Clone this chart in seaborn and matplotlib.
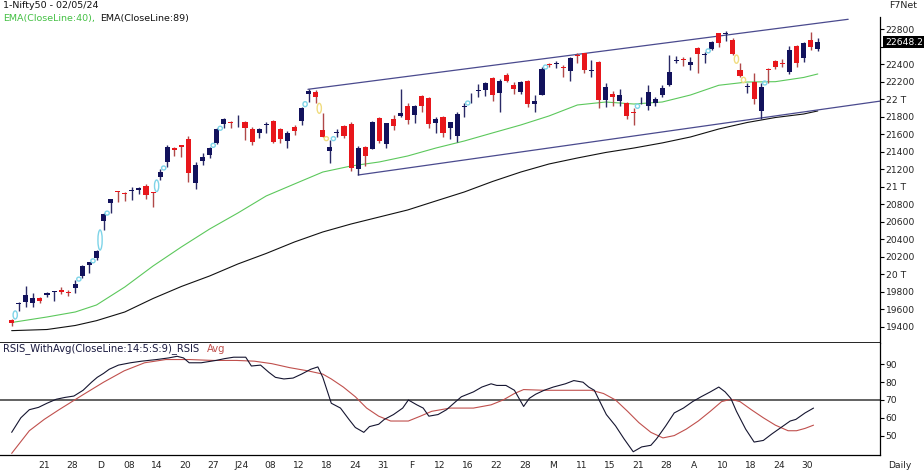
import numpy as np
import matplotlib
matplotlib.use("Agg")
import matplotlib.pyplot as plt
import seaborn as sns
from matplotlib.patches import Ellipse

# ---------------- data (Nifty50 daily, 13 Nov 2023 - 02 May 2024) ----------------
opens = [19480, 19662, 19689, 19677, 19734, 19770, 19805, 19820, 19800, 19841,
         19982, 20107, 20184, 20613, 20818, 20950, 20930, 20955, 20963, 21009,
         20940, 21108, 21286, 21440, 21476, 21542, 21040, 21297, 21362, 21496,
         21716, 21740, 21735, 21742, 21656, 21610, 21700, 21750, 21656, 21526,
         21679, 21754, 22055, 22081, 21648, 21411, 21615, 21697, 21713, 21199,
         21450, 21428, 21781, 21488, 21777, 21807, 21921, 21819, 22036, 22009,
         21724, 21793, 21667, 21579, 21915, 22020, 22100, 22104, 22238, 22073,
         22275, 22161, 22085, 22210, 21944, 22047, 22400, 22400, 22370, 22324,
         22505, 22523, 22325, 22427, 21990, 22058, 21982, 21952, 21850, 21985,
         21921, 21952, 22047, 22161, 22440, 22460, 22389, 22580, 22505, 22568,
         22751, 22745, 22675, 22332, 22140, 22199, 21868, 22345, 22438, 22410,
         22313, 22606, 22466, 22675, 22568]
highs = [19491, 19685, 19868, 19791, 19746, 19803, 19816, 19860, 19822, 19936,
         20107, 20145, 20278, 20695, 20864, 20955, 20935, 21001, 21001, 21032,
         20945, 21199, 21476, 21457, 21482, 21579, 21286, 21382, 21457, 21665,
         21781, 21750, 21819, 21750, 21685, 21667, 21742, 21762, 21667, 21640,
         21705, 21914, 22112, 22104, 21838, 21534, 21656, 21705, 21736, 21465,
         21465, 21754, 21800, 21724, 21819, 22112, 21952, 21933, 22048, 22021,
         21793, 21807, 21742, 21856, 21952, 22066, 22173, 22199, 22249, 22226,
         22295, 22199, 22210, 22218, 22050, 22363, 22409, 22438, 22389, 22477,
         22523, 22526, 22446, 22432, 22187, 22096, 22112, 21971, 21895, 22028,
         22161, 22024, 22161, 22503, 22492, 22477, 22484, 22591, 22541, 22667,
         22758, 22775, 22694, 22409, 22187, 22302, 22181, 22352, 22446, 22454,
         22606, 22617, 22655, 22769, 22694]
lows = [19411, 19583, 19632, 19632, 19670, 19746, 19700, 19776, 19754, 19785,
        19956, 20013, 20164, 20507, 20704, 20830, 20837, 20849, 20918, 20857,
        20773, 21077, 21229, 21351, 21336, 21058, 20971, 21248, 21325, 21488,
        21670, 21667, 21685, 21534, 21476, 21553, 21617, 21500, 21496, 21439,
        21591, 21700, 21971, 21952, 21564, 21275, 21564, 21560, 21183, 21134,
        21237, 21428, 21496, 21439, 21648, 21793, 21716, 21731, 21856, 21667,
        21617, 21571, 21542, 21514, 21793, 21959, 22021, 22036, 21982, 21856,
        22195, 22058, 22058, 21907, 21856, 22045, 22370, 22352, 22249, 22210,
        22415, 22295, 22249, 21895, 21907, 21921, 21921, 21770, 21705, 21944,
        21876, 21921, 22020, 22150, 22409, 22378, 22332, 22295, 22415, 22560,
        22598, 22667, 22503, 22249, 22073, 21944, 21770, 22187, 22345, 22370,
        22286, 22370, 22427, 22560, 22553]
closes = [19446, 19674, 19765, 19727, 19697, 19783, 19812, 19802, 19795, 19890,
          20096, 20140, 20267, 20687, 20855, 20940, 20920, 20966, 20989, 20906,
          20926, 21172, 21457, 21418, 21453, 21154, 21248, 21343, 21439, 21656,
          21770, 21731, 21742, 21667, 21514, 21656, 21713, 21514, 21542, 21617,
          21640, 21895, 22093, 22028, 21571, 21457, 21630, 21579, 21211, 21439,
          21351, 21742, 21526, 21724, 21693, 21845, 21762, 21921, 21925, 21716,
          21773, 21617, 21736, 21830, 21921, 22028, 22104, 22181, 22047, 22210,
          22210, 22112, 22199, 21944, 21982, 22340, 22390, 22410, 22360, 22466,
          22495, 22332, 22335, 21990, 22142, 22021, 22047, 21807, 21839, 21995,
          22085, 21998, 22124, 22313, 22452, 22450, 22427, 22515, 22515, 22655,
          22644, 22755, 22515, 22264, 22147, 21998, 22142, 22336, 22370, 22400,
          22560, 22409, 22637, 22598, 22648.2]

ema_idx = [0, 5, 9, 12, 16, 20, 24, 28, 32, 36, 40, 44, 48, 52, 56, 60, 64, 68,
           72, 76, 80, 84, 88, 92, 96, 100, 104, 108, 112, 114]
ema40 = [19451, 19514, 19571, 19651, 19856, 20096, 20313, 20518, 20701, 20895,
         21032, 21168, 21237, 21283, 21351, 21442, 21522, 21614, 21705, 21808,
         21933, 21967, 21944, 21967, 22047, 22158, 22195, 22199, 22247, 22287]
ema89 = [19358, 19371, 19417, 19472, 19571, 19725, 19862, 19982, 20119, 20239,
         20370, 20484, 20575, 20655, 20735, 20838, 20940, 21060, 21168, 21260,
         21328, 21391, 21442, 21500, 21568, 21659, 21733, 21790, 21830, 21865]

trend_hi_idx = [41.9, 118.3]
trend_hi = [22112, 22911]
trend_lo_idx = [49, 122.8]
trend_lo = [21134, 21977]

rsi_idx = [0, 1.3, 2.5, 3.8, 5, 6.3, 7.5, 8.8, 10.1, 11.3, 12.1, 13, 13.8, 15.1,
           16.8, 18.4, 20.5, 22.2, 23.4, 24.3, 25.1, 26.8, 27.6, 28.9, 30.1, 31.4,
           33.1, 33.9, 35.2, 36.4, 37.3, 38.5, 39.8, 41, 42.3, 43.3, 44, 45.2, 46.5,
           47.7, 48.6, 49.8, 50.6, 51.9, 52.7, 54, 55.3, 56.1, 57.3, 58.2, 59, 60.3,
           61.5, 62.8, 63.6, 65.3, 66.5, 67.8, 68.6, 69.9, 71.1, 72.4, 73.2, 74.1,
           75.3, 76.6, 78.3, 79.5, 80.8, 81.6, 82.4, 83.3, 84.1, 85.4, 86.6, 87.9,
           89.1, 90.4, 91.2, 92.5, 93.7, 95, 96.3, 97.5, 98.8, 100, 100.9, 101.7,
           102.5, 103.8, 105, 106.3, 107.5, 108.8, 110.1, 110.9, 112.2, 113.4]
rsi = [52, 60.1, 64.6, 65.9, 68.2, 70.4, 71.4, 72.2, 75.4, 79.9, 82.6, 84.8, 87.1,
       89.4, 90.7, 91.6, 92.5, 93.4, 94.3, 93.4, 90.7, 90.7, 91.2, 92, 93, 93.8,
       93.8, 88.9, 89.4, 85.3, 82.6, 81.7, 82.2, 84.4, 87.1, 88.4, 82.6, 68.2, 65.5,
       59.2, 54.7, 52, 55.2, 56.5, 59.2, 61.9, 65.5, 70, 67.3, 65.5, 61, 61.9, 64.6,
       69.1, 71.8, 74.5, 77.2, 79, 78.1, 78.1, 75.4, 66.4, 70.9, 73.2, 75.4, 77.2,
       79, 80.8, 79.9, 77.2, 75.4, 68.2, 61.9, 55.6, 48.4, 41.2, 43.9, 44.8, 48.4,
       55.6, 62.8, 65.5, 69.1, 71.8, 74.5, 77.2, 74.5, 70.9, 63.7, 53.8, 46.6, 47.5,
       51.1, 54.7, 58.3, 59.2, 62.8, 65.5]
avg_idx = [0, 2.5, 4.6, 6.7, 10, 13, 15.9, 18.8, 21.8, 25.1, 28.5, 31.8, 34.3, 36.8,
           39.3, 41.9, 44, 45.2, 46.9, 48.6, 50.2, 51.9, 53.6, 56.1, 57.8, 59.4, 62,
           65.3, 67.8, 69.5, 71.1, 72.4, 75.3, 78.7, 82, 83.7, 85.4, 87.1, 88.7, 90.4,
           92.1, 93.7, 95.4, 97.1, 98.8, 100.4, 101.7, 103, 104.6, 106.3, 108, 109.8,
           111, 112.2, 113.4]
rsi_avg = [40.3, 52.9, 59.2, 64.6, 72.7, 79.9, 86.2, 90.7, 92.5, 92.5, 92, 92, 91.6,
           90.2, 88, 86.2, 84.4, 81.7, 77.2, 71.8, 65.5, 61, 58.3, 58.3, 61, 63.7,
           65.5, 65.5, 67.3, 70, 73.6, 75.8, 75.4, 75.4, 75.4, 73.6, 70, 63.7, 57.4,
           52, 48.9, 50.2, 53.8, 58.3, 63.7, 69.1, 70.4, 69.1, 64.6, 60.1, 56, 52.9,
           52.9, 54.2, 56]

xtick_idx = [5 + 4 * k for k in range(28)]
xtick_labels = ["21", "28", "D", "08", "14", "20", "27", "J24", "08", "12", "18",
                "24", "31", "F", "12", "16", "22", "28", "M", "11", "15", "21",
                "28", "A", "10", "18", "24", "30"]
price_ticks = list(range(19400, 22801, 200))
rsi_ticks = [50, 60, 70, 80, 90]

# ---------------- styling ----------------
sns.set_style("white")
plt.rcParams["font.family"] = ["DejaVu Sans"]
FS = 6.6
UP = "#12125c"
DOWN = "#e8161b"
UP_WICK = "#2a2a66"
DOWN_WICK = "#b04848"

fig = plt.figure(figsize=(9.24, 4.75), dpi=100)
W, H = 924.0, 475.0
ax = fig.add_axes([0, 1 - 343 / H, 880 / W, 343 / H])
ax2 = fig.add_axes([0, 1 - 455 / H, 880 / W, 112 / H], sharex=ax)

o = np.array(opens, float); h = np.array(highs, float)
l = np.array(lows, float); c = np.array(closes, float)
n = len(o)
idx = np.arange(n)
up = c >= o

# wicks
ax.vlines(idx, l, h, colors=np.where(up, UP_WICK, DOWN_WICK), lw=1.0, zorder=3)
# bodies
mid = (o + c) / 2
bh = np.maximum(np.abs(c - o), 10)
ax.bar(idx, bh, bottom=mid - bh / 2, width=0.72,
       color=np.where(up, UP, DOWN), linewidth=0, zorder=4)

# gap markers
for i in range(1, n):
    if l[i] > h[i - 1]:
        g0, g1, col = h[i - 1], l[i], "#7fd4e8"
    elif h[i] < l[i - 1]:
        g0, g1, col = h[i], l[i - 1], "#f0dc80"
    else:
        continue
    ht = max(g1 - g0, 45)
    ax.add_patch(Ellipse((i - 0.5, (g0 + g1) / 2), 0.6, ht, fill=False,
                         edgecolor=col, lw=1.0, zorder=5))

# EMAs
sns.lineplot(x=ema_idx, y=ema40, ax=ax, color="#5cc85c", lw=0.8, zorder=2)
sns.lineplot(x=ema_idx, y=ema89, ax=ax, color="#111111", lw=0.8, zorder=2)
# trend lines
sns.lineplot(x=trend_hi_idx, y=trend_hi, ax=ax, color="#4a4a8e", lw=0.9, zorder=2)
sns.lineplot(x=trend_lo_idx, y=trend_lo, ax=ax, color="#4a4a8e", lw=0.9, zorder=2)

ax.set_xlim(-1.65, 122.8)
ax.set_ylim(19217, 23131)
for s in ["left", "top"]:
    ax.spines[s].set_visible(False)
ax.spines["right"].set_bounds(19217, 22937)
ax.spines["right"].set_color("black")
ax.spines["right"].set_linewidth(0.9)
ax.spines["bottom"].set_color("black")
ax.spines["bottom"].set_linewidth(1.2)
ax.yaxis.tick_right()
ax.set_yticks(price_ticks)
last = c[-1]
ax.set_yticklabels([("%d T" % (p // 1000)) if p % 1000 == 0 else
                    ("" if abs(p - last) < 100 else str(p)) for p in price_ticks])
ax.tick_params(axis="y", direction="out", length=3, width=0.8, pad=1,
               labelsize=FS, colors="black", labelcolor="#222222")
ax.tick_params(axis="x", length=0, labelbottom=False)
ax.set_xlabel(""); ax.set_ylabel("")
ax.grid(False)
ax.annotate("%.1f" % last, xy=(1, last), xycoords=("axes fraction", "data"),
            xytext=(3.5, 0), textcoords="offset points", ha="left", va="center",
            color="white", fontsize=FS, zorder=10,
            bbox=dict(boxstyle="square,pad=0.15", fc="black", ec="none"))

# RSI panel
ax2.axhline(70, color="#555555", lw=1.3, zorder=1)
sns.lineplot(x=avg_idx, y=rsi_avg, ax=ax2, color="#c0504d", lw=0.8, zorder=2)
sns.lineplot(x=rsi_idx, y=rsi, ax=ax2, color="#151530", lw=0.8, zorder=3)
ax2.set_ylim(39.4, 101.7)
for s in ["left", "top"]:
    ax2.spines[s].set_visible(False)
for s in ["right", "bottom"]:
    ax2.spines[s].set_color("black")
    ax2.spines[s].set_linewidth(0.9)
ax2.yaxis.tick_right()
ax2.set_yticks(rsi_ticks)
ax2.tick_params(axis="y", direction="out", length=3, width=0.8, pad=1,
                labelsize=FS, colors="black", labelcolor="#222222")
ax2.set_xticks([t - 0.45 for t in xtick_idx])
ax2.set_xticklabels(xtick_labels)
ax2.tick_params(axis="x", length=0, pad=4.5, labelsize=FS, labelcolor="#222222")
ax2.set_xlabel(""); ax2.set_ylabel("")
ax2.grid(False)

# texts
fig.text(3 / W, 1 - 6 / H, "1-Nifty50 - 02/05/24", fontsize=6.8, va="center",
         ha="left", color="#111111")
fig.text(3 / W, 1 - 18 / H, "EMA(CloseLine:40),", fontsize=6.8, va="center",
         ha="left", color="#44c044")
fig.text(100 / W, 1 - 18 / H, "EMA(CloseLine:89)", fontsize=6.8, va="center",
         ha="left", color="#111111")
fig.text(903 / W, 1 - 6 / H, "F7Net", fontsize=6.8, va="center", ha="center",
         color="#222222")
fig.text(3 / W, 1 - 348.5 / H, "RSIS_WithAvg(CloseLine:14:5:S:9)_RSIS",
         fontsize=7.2, va="center", ha="left", color="#1a1a40")
fig.text(207 / W, 1 - 348.5 / H, "Avg", fontsize=7.2, va="center", ha="left",
         color="#c0504d")
fig.text(900 / W, 1 - 466 / H, "Daily", fontsize=6.6, va="center", ha="center",
         color="#222222")

fig.savefig("out.png", dpi=100, facecolor="white")
